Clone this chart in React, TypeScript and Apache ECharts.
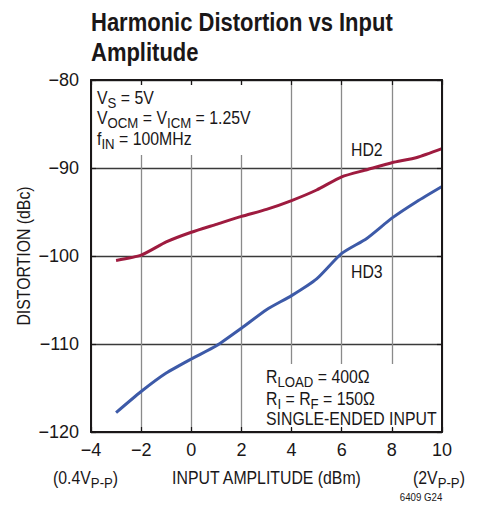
import React, { useEffect, useRef } from "react";
import * as echarts from "echarts";

const xValues = [-3, -2, -1, 0, 1, 2, 3, 4, 5, 6, 7, 8, 9, 10];
const hd2 = [-100.5, -99.9, -98.4, -97.3, -96.4, -95.5, -94.7, -93.7, -92.5, -91.0, -90.2, -89.4, -88.8, -87.8];
const hd3 = [-117.8, -115.4, -113.3, -111.7, -110.2, -108.2, -106.1, -104.5, -102.6, -99.7, -98.0, -95.7, -93.8, -92.1];
const xTicks = { min: -4, max: 10, interval: 2 };
const yTicks = { min: -120, max: -80, interval: 10 };

const FAMILY = "'Liberation Sans', Arial, sans-serif";
const INK = "#1a1718";
const SX = 0.88;
const SX_TITLE = 0.83;

type Seg = [string, boolean];

export default function App() {
  const ref = useRef<HTMLDivElement>(null);
  useEffect(() => {
    if (!ref.current) return;
    const chart = echarts.init(ref.current, undefined, { renderer: "svg" });
    const ctx = document.createElement("canvas").getContext("2d")!;
    const measure = (t: string, size: number, weight = "normal") => {
      ctx.font = `${weight} ${size}px ${FAMILY}`;
      return ctx.measureText(t).width;
    };
    const K = 0.3465;
    const textEl = (t: string, x: number, baseline: number, size: number, weight = "normal", align = "left", sx = SX) => ({
      type: "text",
      x,
      y: baseline - K * size,
      scaleX: sx,
      z: 10,
      style: { text: t, fill: INK, fontSize: size, fontFamily: FAMILY, fontWeight: weight, align, verticalAlign: "middle" },
    });
    const richLine = (segs: Seg[], x0: number, baseline: number, size: number, subSize: number, subDrop: number) => {
      const els: any[] = [];
      let x = x0;
      for (const [t, sub] of segs) {
        const s = sub ? subSize : size;
        els.push(textEl(t, x, baseline + (sub ? subDrop : 0), s));
        x += measure(t, s) * SX;
      }
      return els;
    };
    const minus = (v: number) => (v < 0 ? "\u2212" + Math.abs(v) : String(v));

    const graphics: any[] = [
      { type: "rect", z: 1, shape: { x: 93, y: 85, width: 164, height: 70 }, style: { fill: "#fff" } },
      { type: "rect", z: 1, shape: { x: 258, y: 364, width: 182, height: 64 }, style: { fill: "#fff" } },
      textEl("Harmonic Distortion vs Input", 91, 30.5, 26.5, "bold", "left", SX_TITLE),
      textEl("Amplitude", 91, 60.5, 26.5, "bold", "left", SX_TITLE),
      ...richLine([["V", false], ["S", true], [" = 5V", false]], 97, 104, 18, 15, 4),
      ...richLine([["V", false], ["OCM", true], [" = V", false], ["ICM", true], [" = 1.25V", false]], 97, 124, 18, 15, 4),
      ...richLine([["f", false], ["IN", true], [" = 100MHz", false]], 97, 145, 18, 15, 4),
      ...richLine([["R", false], ["LOAD", true], [" = 400\u03a9", false]], 266, 383, 18, 15, 4),
      ...richLine([["R", false], ["I", true], [" = R", false], ["F", true], [" = 150\u03a9", false]], 266, 405, 18, 15, 4),
      textEl("SINGLE-ENDED INPUT", 266, 425.5, 18),
      textEl("HD2", 351, 156, 18),
      textEl("HD3", 351, 278, 18),
      ...richLine([["(0.4V", false], ["P-P", true], [")", false]], 53, 484, 18, 15, 4),
      ...richLine([["(2V", false], ["P-P", true], [")", false]], 413, 484, 18, 15, 4),
      textEl("INPUT AMPLITUDE (dBm)", 266.5, 484, 18, "normal", "center"),
      textEl("6409 G24", 421, 501, 11, "normal", "center"),
      {
        type: "text",
        x: 24,
        y: 256,
        rotation: Math.PI / 2,
        scaleX: SX,
        z: 10,
        style: { text: "DISTORTION (dBc)", fill: INK, fontSize: 18, fontFamily: FAMILY, align: "center", verticalAlign: "middle" },
      },
    ];

    const frameAxis = (extra: any) => ({
      ...xTicks,
      type: "value",
      z: 3,
      axisLine: { show: true, onZero: false, lineStyle: { color: INK, width: 2 } },
      axisTick: { show: true, inside: true, length: 5, lineStyle: { color: INK, width: 1.2 } },
      axisLabel: { show: false },
      splitLine: { show: false },
      ...extra,
    });
    const frameYAxis = (extra: any) => ({
      ...yTicks,
      type: "value",
      z: 3,
      axisLine: { show: true, onZero: false, lineStyle: { color: INK, width: 2 } },
      axisTick: { show: true, inside: true, length: 5, lineStyle: { color: INK, width: 1.2 } },
      axisLabel: { show: false },
      splitLine: { show: false },
      ...extra,
    });

    chart.setOption({
      animation: false,
      grid: { left: 91, top: 80, width: 351, height: 352, containLabel: false },
      xAxis: [
        {
          ...xTicks,
          type: "value",
          position: "bottom",
          z: 0,
          axisLine: { show: false },
          axisTick: { show: false },
          axisLabel: { show: true, color: INK, fontSize: 18, fontFamily: FAMILY, margin: 9, formatter: minus },
          splitLine: { show: true, lineStyle: { color: "#8a8a8a", width: 1.3 } },
        },
        frameAxis({ position: "top" }),
        frameAxis({ position: "bottom" }),
      ],
      yAxis: [
        {
          ...yTicks,
          type: "value",
          position: "left",
          z: 0,
          axisLine: { show: false },
          axisTick: { show: false },
          axisLabel: { show: true, color: INK, fontSize: 18, fontFamily: FAMILY, margin: 12, formatter: minus },
          splitLine: { show: true, lineStyle: { color: "#3a3a3a", width: 1.3 } },
        },
        frameYAxis({ position: "right" }),
        frameYAxis({ position: "left" }),
      ],
      series: [
        {
          name: "HD2",
          type: "line",
          smooth: 0.2,
          symbol: "none",
          z: 2,
          lineStyle: { color: "#9e1b3f", width: 3 },
          data: xValues.map((x, i) => [x, hd2[i]]),
        },
        {
          name: "HD3",
          type: "line",
          smooth: 0.2,
          symbol: "none",
          z: 2,
          lineStyle: { color: "#3d5aa8", width: 3 },
          data: xValues.map((x, i) => [x, hd3[i]]),
        },
      ],
      graphic: graphics,
    });
    return () => chart.dispose();
  }, []);
  return <div ref={ref} style={{ position: "fixed", left: 0, top: 0, width: 482, height: 506, background: "#fff" }} />;
}
